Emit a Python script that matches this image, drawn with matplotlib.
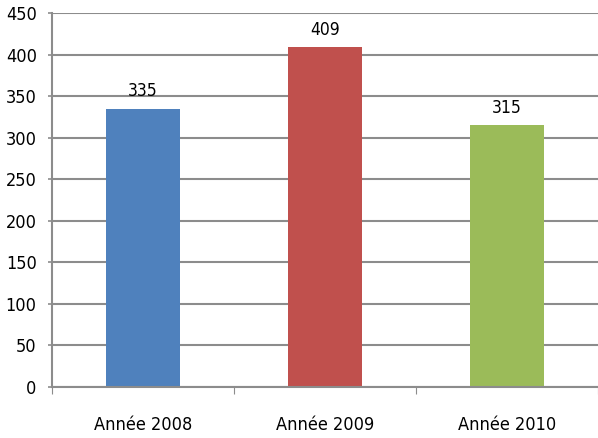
import matplotlib.pyplot as plt
import numpy as np

categories = ["Année 2008", "Année 2009", "Année 2010"]
values = [335, 409, 315]
colors = ["#4F81BD", "#C0504D", "#9BBB59"]

plt.rcParams['font.family'] = ['DejaVu Sans']
plt.rcParams['font.stretch'] = 'condensed'

fig = plt.figure(figsize=(5.98, 4.38), dpi=100)
ax = fig.add_axes([52 / 598, 1 - 387 / 438, 1 - 52 / 598, 374 / 438])

x = np.arange(len(categories))
bars = ax.bar(x, values, width=0.41, color=colors, zorder=2)

for xi, v in zip(x, values):
    ax.annotate(str(v), (xi, v), xytext=(0, 6), textcoords="offset points",
                ha="center", va="bottom", fontsize=12.5, color="black")

ax.set_xlim(-0.5, 2.5)
ax.set_ylim(0, 450)
ax.set_yticks(range(0, 451, 50))
ax.yaxis.grid(True, color="#8c8c8c", linewidth=1.5, zorder=1)
ax.set_axisbelow(True)

ax.set_xticks([-0.5, 0.5, 1.5, 2.5])
ax.set_xticklabels([])
ax.set_xticks(x, minor=True)
ax.set_xticklabels(categories, minor=True)
ax.tick_params(axis="x", which="minor", length=0, pad=21, labelsize=13)
ax.tick_params(axis="x", which="major", length=5, color="#8c8c8c", direction="out")
ax.tick_params(axis="y", length=3, width=1.2, color="#8c8c8c", labelsize=13, pad=8)

for side in ["top", "right"]:
    ax.spines[side].set_visible(False)
ax.spines["left"].set_color("#8c8c8c")
ax.spines["left"].set_linewidth(1.5)
ax.spines["bottom"].set_color("#8c8c8c")
ax.spines["bottom"].set_linewidth(1.5)
ax.spines["bottom"].set_zorder(3)

fig.savefig("out.png", dpi=100)
